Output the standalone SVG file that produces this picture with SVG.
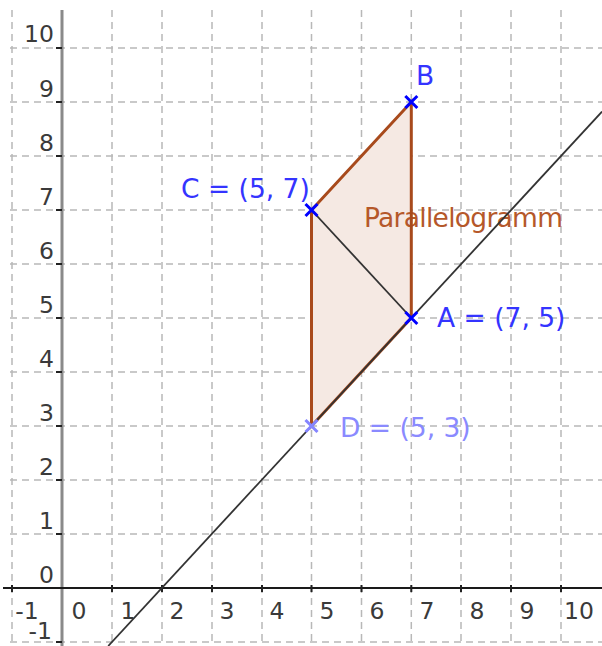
<svg xmlns="http://www.w3.org/2000/svg" width="602" height="646" viewBox="0 0 602 646">
<style>
.grid{stroke:#b8b8b8;stroke-width:1.5;stroke-dasharray:7 5;fill:none}
.tick{stroke:#222;stroke-width:2}
.ax{font-family:"DejaVu Sans","Liberation Sans",sans-serif;font-size:23.5px;fill:#3a3a3a}
.lbl{font-family:"DejaVu Sans","Liberation Sans",sans-serif;font-size:26.5px}
.edge{stroke:#a84a1c;stroke-width:3;fill:none;stroke-linecap:round}
.ln{stroke:#333;stroke-width:1.8;fill:none}
.pt{stroke-width:3;fill:none}
</style>
<rect width="602" height="646" fill="#fff"/>
<g id="grid">
<path class="grid" d="M12 10V646M112 10V646M162 10V646M212 10V646M262 10V646M311.5 10V646M361.5 10V646M411.3 10V646M461 10V646M511 10V646M561 10V646"/>
<path class="grid" d="M10 48H602M10 102H602M10 156H602M10 210H602M10 264H602M10 318H602M10 372H602M10 426H602M10 480H602M10 534H602M10 642H602"/>
</g>
<g id="axes">
<line x1="62" y1="10" x2="62" y2="646" stroke="#8a8a8a" stroke-width="3"/>
<line x1="3" y1="588" x2="602" y2="588" stroke="#1a1a1a" stroke-width="2"/>
<path class="tick" d="M56 48H62M56 102H62M56 156H62M56 210H62M56 264H62M56 318H62M56 372H62M56 426H62M56 480H62M56 534H62M56 642H62"/>
<path class="tick" d="M12 585V592M112 585V592M162 585V592M212 585V592M262 585V592M311.5 585V592M361.5 585V592M411.3 585V592M461 585V592M511 585V592M561 585V592"/>
<g class="ax" text-anchor="end">
<text x="54" y="42">10</text><text x="54" y="97">9</text><text x="54" y="151">8</text><text x="54" y="205">7</text><text x="54" y="259">6</text><text x="54" y="313">5</text><text x="54" y="367">4</text><text x="54" y="421">3</text><text x="54" y="475">2</text><text x="54" y="529">1</text><text x="54" y="583">0</text><text x="52" y="639">-1</text>
</g>
<g class="ax" text-anchor="middle">
<text x="27" y="619">-1</text><text x="79" y="619">0</text><text x="128" y="619">1</text><text x="177" y="619">2</text><text x="227" y="619">3</text><text x="277" y="619">4</text><text x="327" y="619">5</text><text x="377" y="619">6</text><text x="427" y="619">7</text><text x="477" y="619">8</text><text x="527" y="619">9</text><text x="579" y="619">10</text>
</g>
</g>
<g id="parallelogram">
<polygon points="411.3,318 411.3,102 311.5,210 311.5,426" fill="#f5e9e3"/>
<text class="lbl" x="364" y="227" fill="#b5582a" textLength="199">Parallelogramm</text>
<path class="edge" d="M411.3 318L411.3 102L311.5 210L311.5 426Z"/>
</g>
<g id="connectors">
<line class="ln" x1="108.2" y1="646" x2="602" y2="111.6"/>
<line class="ln" x1="311.5" y1="210" x2="411.3" y2="318"/>
</g>
<g id="A">
<path class="pt" stroke="#0000ff" d="M405.3 312l12 12M405.3 324l12 -12"/>
<text class="lbl" x="437" y="327" fill="#3434ff">A = (7, 5)</text>
</g>
<g id="B">
<path class="pt" stroke="#0000ff" d="M405.3 96l12 12M405.3 108l12 -12"/>
<text class="lbl" x="416" y="85" fill="#3434ff">B</text>
</g>
<g id="C">
<path class="pt" stroke="#0000ff" d="M305.5 204l12 12M305.5 216l12 -12"/>
<text class="lbl" x="181" y="198" fill="#3434ff">C = (5, 7)</text>
</g>
<g id="D">
<path class="pt" stroke="#8585ff" d="M305.5 420l12 12M305.5 432l12 -12"/>
<text class="lbl" x="340" y="437" fill="#8a8aff">D = (5, 3)</text>
</g>
</svg>
